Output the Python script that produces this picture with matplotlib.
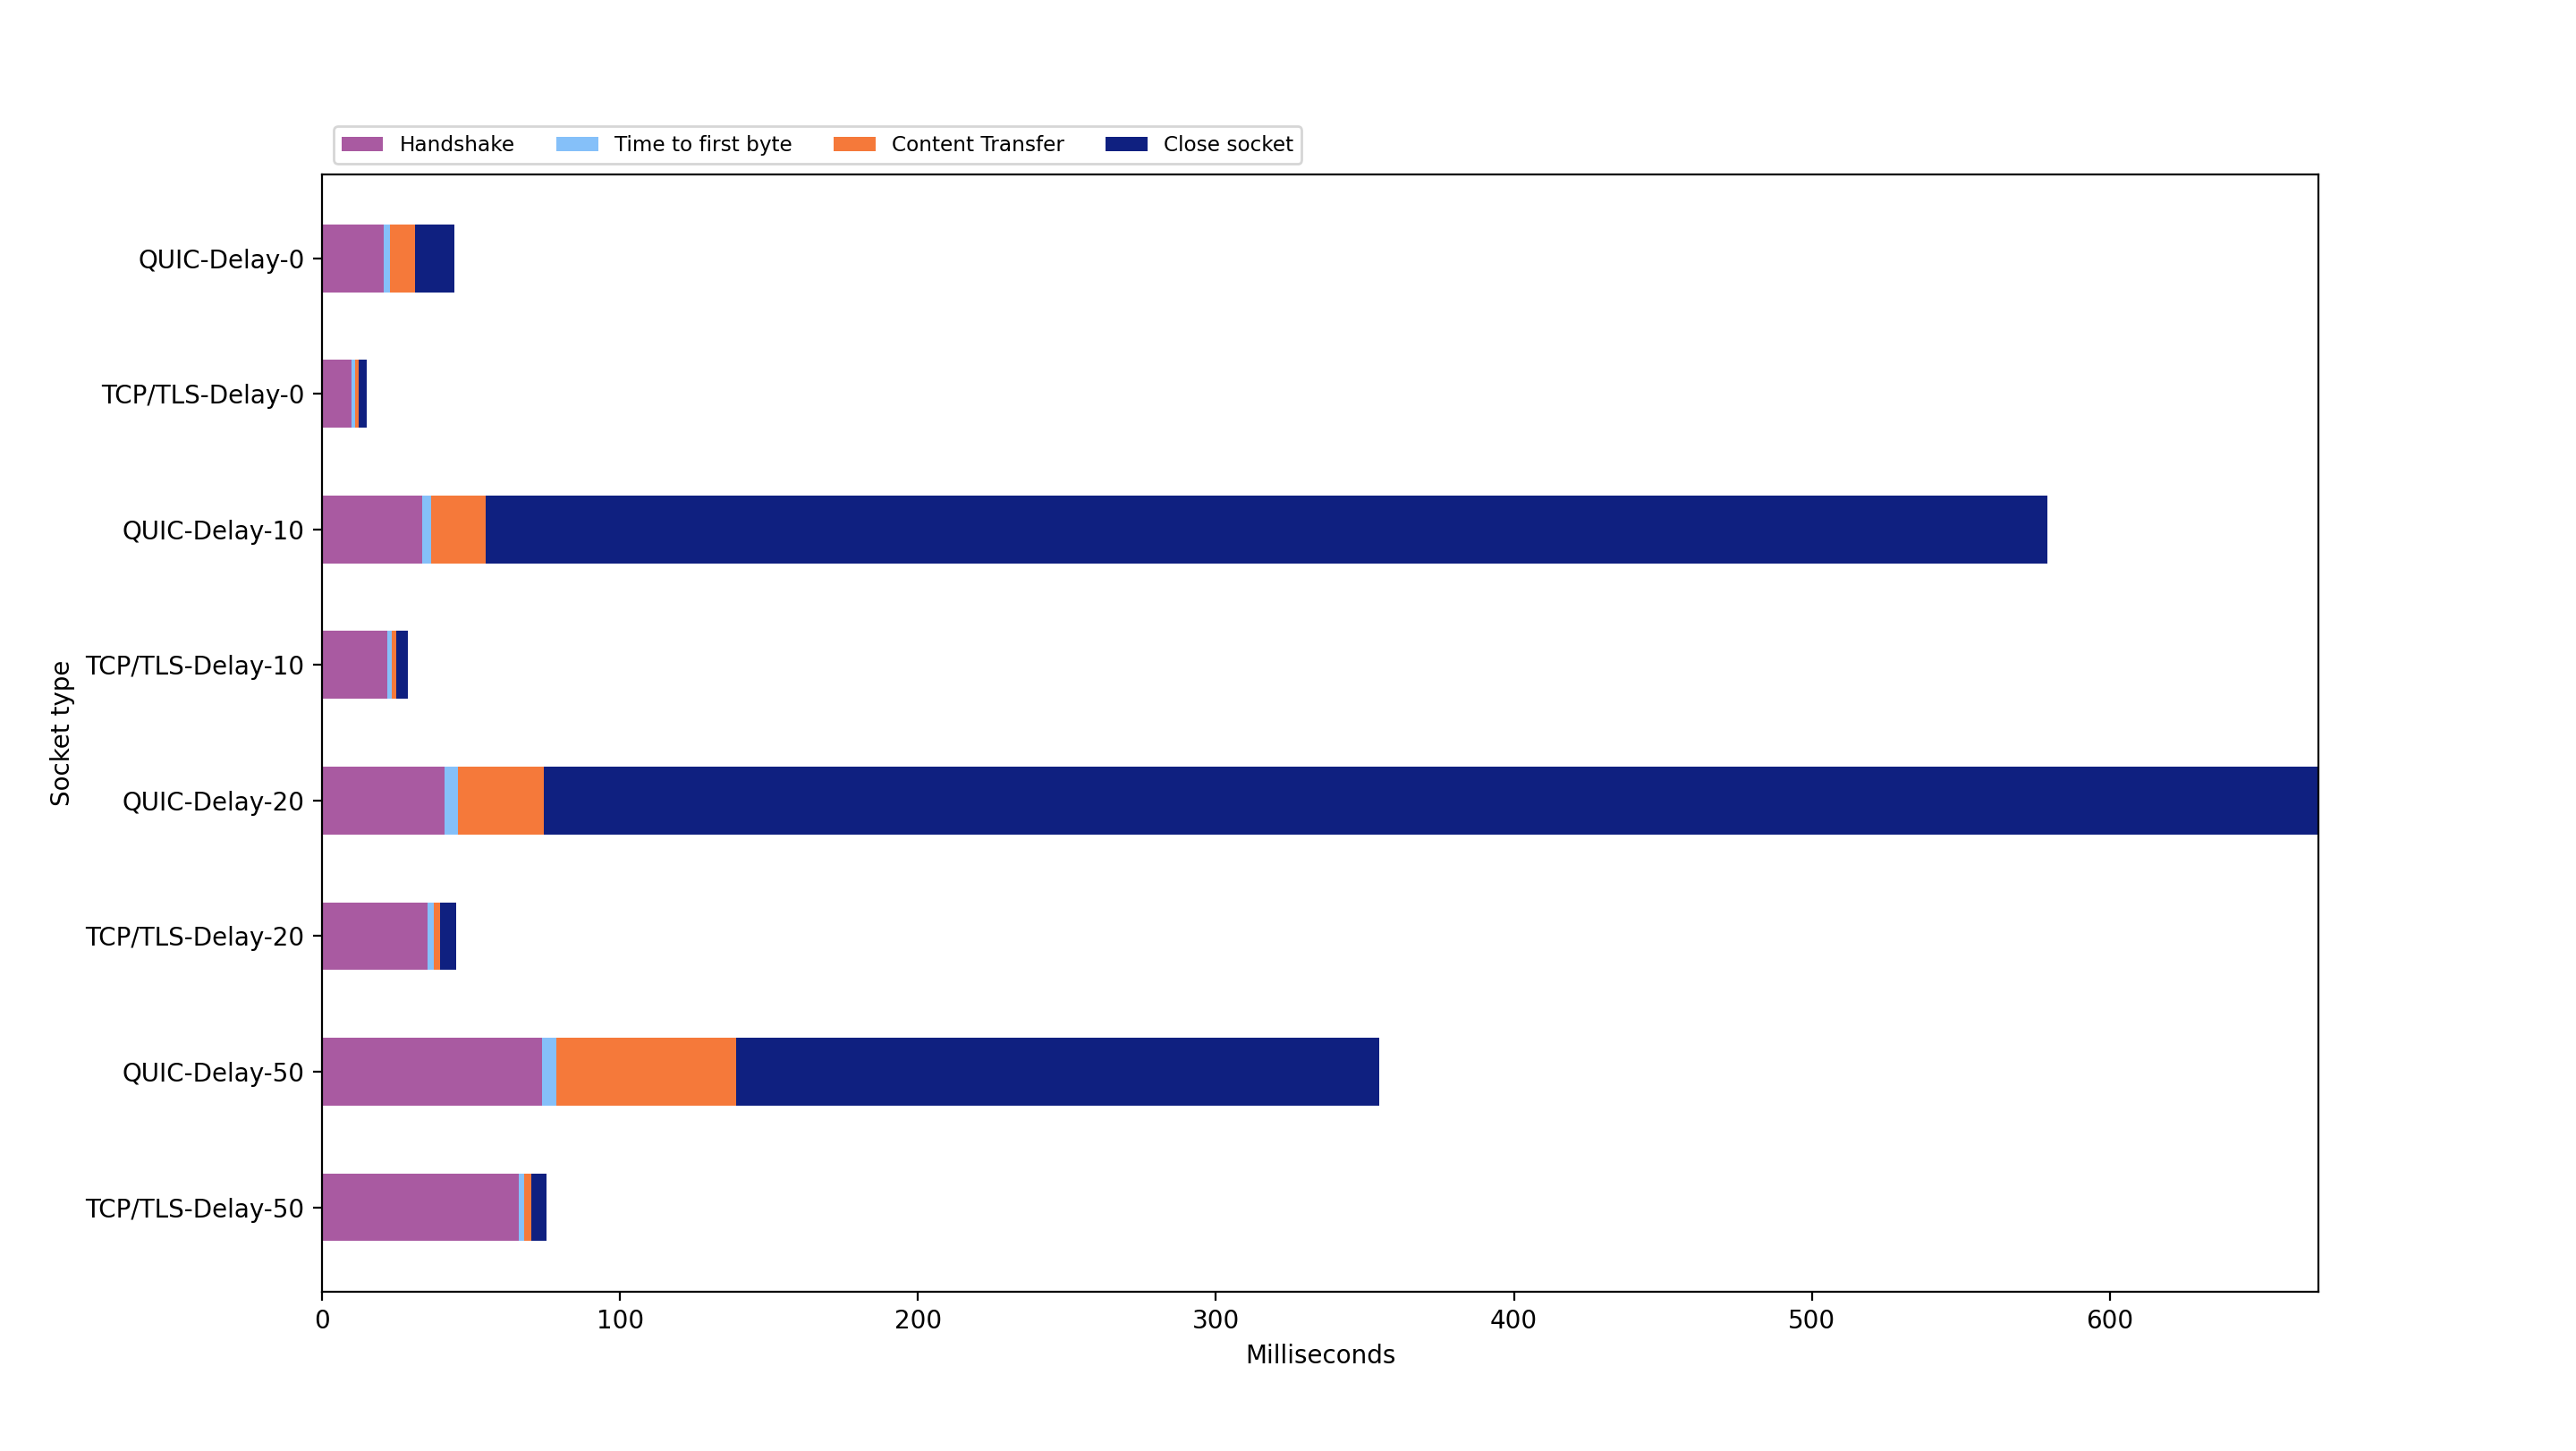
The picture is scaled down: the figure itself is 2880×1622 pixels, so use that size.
import matplotlib
matplotlib.use("Agg")
import matplotlib.pyplot as plt
import numpy as np

categories = ["QUIC-Delay-0", "TCP/TLS-Delay-0", "QUIC-Delay-10", "TCP/TLS-Delay-10",
              "QUIC-Delay-20", "TCP/TLS-Delay-20", "QUIC-Delay-50", "TCP/TLS-Delay-50"]
handshake = [20.7, 9.9, 33.6, 21.9, 41.2, 35.5, 73.7, 65.9]
ttfb = [2.1, 1.2, 3.1, 1.5, 4.5, 2.1, 5.0, 2.0]
content = [8.4, 1.2, 18.3, 1.5, 28.8, 2.1, 60.2, 2.4]
close = [13.3, 2.7, 524.0, 3.9, 596.5, 5.4, 216.0, 5.1]

series = [("Handshake", handshake, "#A95AA1"),
          ("Time to first byte", ttfb, "#85C0F9"),
          ("Content Transfer", content, "#F5793A"),
          ("Close socket", close, "#0F2080")]

fig = plt.figure(figsize=(14.4, 8.11), dpi=200)
ax = fig.add_axes([0.125, 0.11, 0.775, 0.77])

y = np.arange(len(categories))
left = np.zeros(len(categories))
handles = []
for name, vals, col in series:
    v = np.array(vals)
    h = ax.barh(y, v, left=left, height=0.5, color=col, label=name)
    handles.append(h)
    left += v

ax.set_yticks(y)
ax.set_yticklabels(categories)
ax.set_ylim(len(categories) - 1 + 0.62, -0.62)
ax.set_xlim(0, 670)
ax.set_xlabel("Milliseconds")
ax.set_ylabel("Socket type")

fig.legend(handles=handles, loc="lower left", bbox_to_anchor=(0.1295, 0.8872),
           borderaxespad=0, ncol=4, fontsize=8.33)

fig.savefig("out.png", dpi=200)
